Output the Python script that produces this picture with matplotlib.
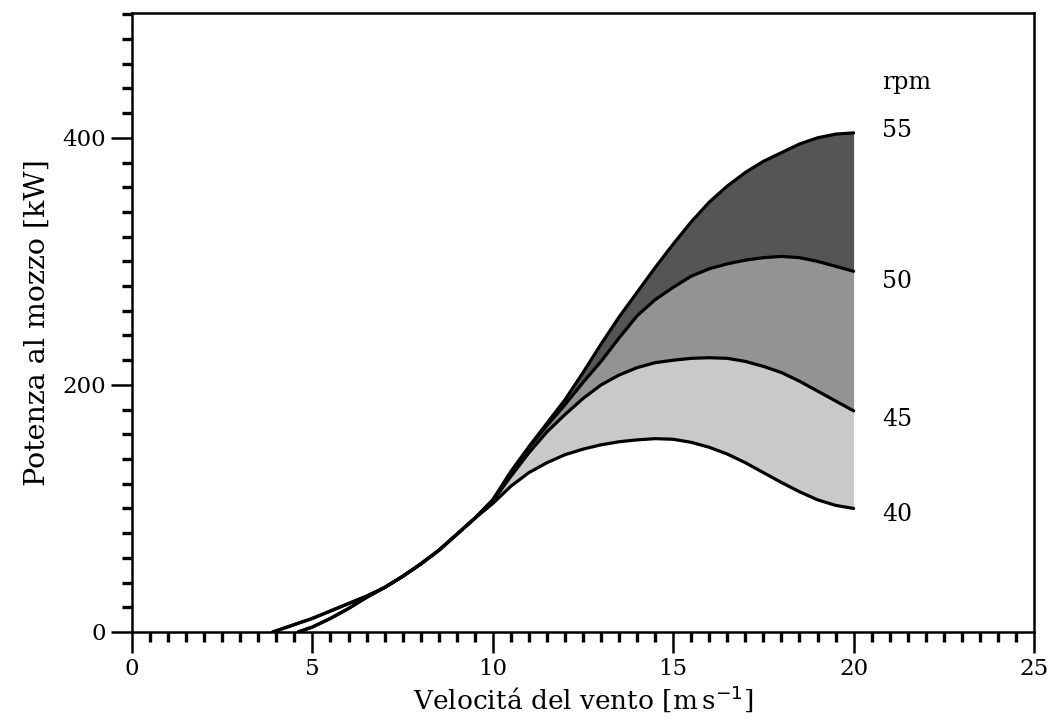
import numpy as np
import matplotlib
matplotlib.use("Agg")
import matplotlib.pyplot as plt
from matplotlib.ticker import MultipleLocator
from matplotlib.transforms import ScaledTranslation

# ---- data ----
wind = [3.9, 4.6, 5.0, 5.5, 6.0, 6.5, 7.0, 7.5, 8.0, 8.5, 9.0, 9.5,
        10.0, 10.5, 11.0, 11.5, 12.0, 12.5, 13.0, 13.5, 14.0, 14.5,
        15.0, 15.5, 16.0, 16.5, 17.0, 17.5, 18.0, 18.5, 19.0, 19.5, 20.0]

p40 = [0, 7, 11, 17, 23, 29, 36, 45, 55, 66, 79, 92,
       104, 118, 129, 137, 143.5, 148, 151.5, 154, 155.5, 156.5,
       156, 153.5, 149.5, 144, 137, 129, 121, 113.5, 107, 102.5, 100]
p45 = [0, 7, 11, 17, 23, 29, 36, 45, 55, 66, 79, 92,
       106, 126, 145, 162, 176, 189, 200, 208, 214, 218,
       220, 221.5, 222, 221.5, 219, 215, 210, 203, 195, 187, 179]
p50 = [np.nan, 0, 4, 11, 19, 28, 36, 45, 55, 66, 79, 92,
       107, 129, 149, 167, 184, 202, 219, 238, 256, 269,
       279, 288, 294, 298, 301, 303, 304, 303, 300, 296, 292]
p55 = [np.nan, 0, 4, 11, 19, 28, 36, 45, 55, 66, 79, 92,
       107, 130, 150, 169, 188, 210, 233, 255, 275, 295,
       314, 332, 348, 361, 372, 381, 388, 395, 400, 403, 404]

rpm_labels = ["40", "45", "50", "55"]
rpm_label_y = [95, 172, 284, 406]

x = np.array(wind)
series = [np.array(p, dtype=float) for p in (p40, p45, p50, p55)]

plt.rcParams['font.family'] = ['DejaVu Serif']
fig = plt.figure(figsize=(10.47, 7.25), dpi=100)
ax = fig.add_axes([0.1261, 0.1283, 0.8615, 0.8537])

fill_colors = ["#c9c9c9", "#939393", "#555555"]
for lo, hi, c in zip(series[:-1], series[1:], fill_colors):
    m = ~np.isnan(lo) & ~np.isnan(hi) & (x >= 9.5)
    ax.fill_between(x[m], lo[m], hi[m], color=c, linewidth=0, zorder=1)

for s in series:
    ax.plot(x, s, color="black", lw=2.3, zorder=3,
            solid_capstyle="round", solid_joinstyle="round")

ax.set_xlim(0, 25)
ax.set_ylim(0, 501)
ax.xaxis.set_major_locator(MultipleLocator(5))
ax.xaxis.set_minor_locator(MultipleLocator(0.5))
ax.yaxis.set_major_locator(MultipleLocator(200))
ax.yaxis.set_minor_locator(MultipleLocator(20))

for sp in ax.spines.values():
    sp.set_linewidth(1.8)

ax.tick_params(axis="both", which="major", direction="out", length=15, width=1.8,
               labelsize=16.5, pad=4)
ax.tick_params(axis="both", which="minor", direction="out", length=7, width=2.4)
ax.tick_params(top=False, right=False, which="both")

ax.set_xlabel("Velocitá del vento [m$\\,$s$^{-1}$]", fontsize=19, labelpad=2)
ax.set_ylabel("Potenza al mozzo [kW]", fontsize=20.5, labelpad=8)

for lab, yv in zip(rpm_labels, rpm_label_y):
    ax.text(20.8, yv, lab, fontsize=17, ha="left", va="center")
ax.text(20.8, 445, "rpm", fontsize=17, ha="left", va="center")

fig.canvas.draw()
last = ax.xaxis.get_major_ticks()[-1].label1
last.set_transform(last.get_transform() +
                   ScaledTranslation(-5 / 72, 0, fig.dpi_scale_trans))

fig.savefig("out.png", dpi=100)
